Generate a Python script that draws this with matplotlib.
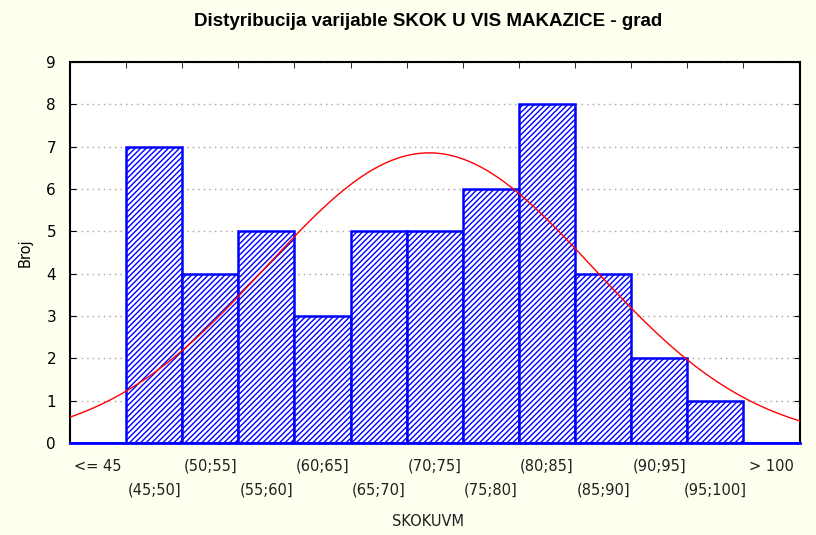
import numpy as np
import matplotlib.pyplot as plt
from matplotlib import font_manager

# histogram categories and counts
categories = ['<= 45', '(45;50]', '(50;55]', '(55;60]', '(60;65]', '(65;70]',
              '(70;75]', '(75;80]', '(80;85]', '(85;90]', '(90;95]', '(95;100]', '> 100']
counts = [0, 7, 4, 5, 3, 5, 5, 6, 8, 4, 2, 1, 0]
bin_start = 40     # left edge of "<= 45" class
bin_width = 5
fit_mean = 72.0    # fitted normal curve
fit_sd = 14.55

names = {f.name for f in font_manager.fontManager.ttflist}
title_font = 'Liberation Sans Narrow' if 'Liberation Sans Narrow' in names else 'Liberation Sans'

fig = plt.figure(figsize=(8.16, 5.35), dpi=100, facecolor='#fffff0')
ax = fig.add_axes([0.0858, 0.172, 0.894, 0.712])

x = np.arange(len(categories))
ax.bar(x + 0.5, counts, width=1.0, facecolor='white', edgecolor='#0000ff',
       hatch='//////', linewidth=1.8, zorder=2)

# normal curve in category units
n = sum(counts)
v = np.linspace(bin_start, bin_start + bin_width * len(categories), 300)
dens = n * bin_width / (fit_sd * np.sqrt(2 * np.pi)) * np.exp(-0.5 * ((v - fit_mean) / fit_sd) ** 2)
ax.plot((v - bin_start) / bin_width, dens, color='#ff0000', lw=1.0, zorder=3)

ax.set_xlim(0, len(categories))
ax.set_ylim(0, 9)
ax.set_yticks(range(10))
ax.yaxis.grid(True, linestyle=(0, (1, 3)), color='#a0a0a0', lw=1.0, zorder=0)
ax.set_axisbelow(True)

ax.set_xticks(x + 0.5)
ax.set_xticklabels(categories, fontsize=10.5, color='#202020')
for i, lab in enumerate(ax.get_xticklabels()):
    lab.set_y(-0.012 if i % 2 == 0 else -0.075)
ax.set_xticks(x, minor=True)
ax.tick_params(axis='x', which='major', length=0, pad=8)
ax.tick_params(axis='x', which='minor', direction='in', length=4, top=True, bottom=True)
ax.tick_params(axis='y', direction='in', length=4, right=True, labelsize=11, pad=10)

for s in ax.spines.values():
    s.set_linewidth(1.5)
    s.set_color('black')
ax.spines['bottom'].set_color('#0000ff')
ax.spines['bottom'].set_linewidth(2.0)

fig.text(0.525, 0.026, 'SKOKUVM', fontsize=10.5, ha='center', va='center', color='#202020')
ax.set_ylabel('Broj', fontsize=10.5, labelpad=10)
fig.suptitle('Distyribucija varijable SKOK U VIS MAKAZICE - grad',
             fontsize=13.5, fontweight='bold', family=title_font, x=0.525, y=0.975)

fig.savefig('out.png', dpi=100, facecolor=fig.get_facecolor())
